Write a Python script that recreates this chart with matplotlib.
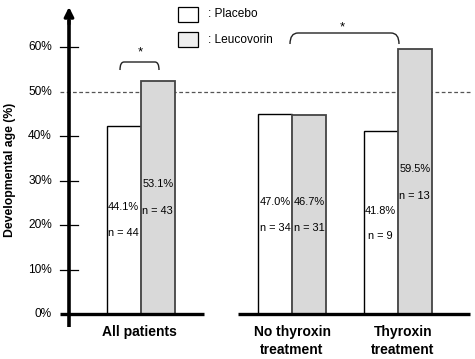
import matplotlib
matplotlib.use("Agg")
import matplotlib.pyplot as plt
from matplotlib.path import Path
from matplotlib.patches import PathPatch, Rectangle

plt.rcParams['font.family'] = ['Liberation Sans', 'DejaVu Sans']

# ---- data ----
groups = ["All patients", "No thyroxin\ntreatment", "Thyroxin\ntreatment"]
placebo_height = [42.2, 45.0, 41.1]       # drawn bar heights (%)
leucovorin_height = [52.5, 44.8, 59.7]
placebo_label = ["44.1%", "47.0%", "41.8%"]
leucovorin_label = ["53.1%", "46.7%", "59.5%"]
placebo_n = ["n = 44", "n = 34", "n = 9"]
leucovorin_n = ["n = 43", "n = 31", "n = 13"]
yticks = [0, 10, 20, 30, 40, 50, 60]
ytick_labels = ["0%", "10%", "20%", "30%", "40%", "50%", "60%"]
reference_line = 50

# ---- layout ----
W, H = 475, 359
Y0 = 314.0          # pixel row of 0 %
SC = 4.446          # pixels per %
def pv(p):          # pixel row -> value (layout helper for annotations)
    return (Y0 - p) / SC

fig = plt.figure(figsize=(W / 100, H / 100), dpi=100)
ax = fig.add_axes([0, 0, 1, 1])
ax.set_xlim(0, W)
ax.set_ylim(pv(H), pv(0))
ax.axis('off')

centers = [140.7, 292.3, 397.7]
bw = 34
pl_x = [c - bw / 2 for c in centers]
le_x = [c + bw / 2 for c in centers]

ax.bar(pl_x, placebo_height, width=bw, color='white', edgecolor='black', linewidth=1.0, zorder=2)
ax.bar(le_x, leucovorin_height, width=bw, color='#d9d9d9', edgecolor='#444444', linewidth=1.3, zorder=3)

# labels inside bars (pixel rows of text centres)
pl_lab_rows = [207.3, 202.3, 210.7]
pl_n_rows = [233.3, 228.3, 236.0]
le_lab_rows = [184.3, 202.3, 169.3]
le_n_rows = [210.7, 228.3, 196.0]
for i in range(3):
    ax.text(pl_x[i], pv(pl_lab_rows[i]), placebo_label[i], ha='center', va='center', fontsize=7.9, zorder=5)
    ax.text(pl_x[i], pv(pl_n_rows[i]), placebo_n[i], ha='center', va='center', fontsize=7.9, zorder=5)
    ax.text(le_x[i], pv(le_lab_rows[i]), leucovorin_label[i], ha='center', va='center', fontsize=7.9, zorder=5)
    ax.text(le_x[i], pv(le_n_rows[i]), leucovorin_n[i], ha='center', va='center', fontsize=7.9, zorder=5)

# category labels
cat_x = [139.5, 292, 403]
for i, g in enumerate(groups):
    ax.text(cat_x[i], pv(325), g, ha='center', va='top', fontsize=10, fontweight='bold', linespacing=1.38)

# reference dashed line
ax.plot([60, 470], [reference_line, reference_line], color='#555555', lw=0.9,
        linestyle=(0, (3, 2)), zorder=1)

# y axis with arrow
ax.plot([69, 69], [pv(327), pv(20)], color='black', lw=2.6, solid_capstyle='butt', zorder=6)
ax.annotate('', xy=(69, pv(7)), xytext=(69, pv(24)),
            arrowprops=dict(arrowstyle='-|>', color='black', lw=2.2,
                            mutation_scale=14, shrinkA=0, shrinkB=0), zorder=6)

# x axis (broken)
ax.plot([60, 204], [0, 0], color='black', lw=2.4, solid_capstyle='butt', zorder=6)
ax.plot([238, 470], [0, 0], color='black', lw=2.4, solid_capstyle='butt', zorder=6)

# ticks and labels
for v, lab in zip(yticks, ytick_labels):
    if v not in (0, 50):
        ax.plot([60, 78], [v, v], color='black', lw=0.9, zorder=6)
    ax.text(52, v, lab, ha='right', va='center', fontsize=8.6)

ax.text(10, pv(170), "Developmental age (%)", rotation=90, ha='center', va='center',
        fontsize=8.8, fontweight='bold')

# legend
ax.add_patch(Rectangle((178, pv(22)), 20, pv(7) - pv(22), facecolor='white', edgecolor='black', lw=0.9))
ax.add_patch(Rectangle((178, pv(47)), 20, pv(32) - pv(47), facecolor='#efefef', edgecolor='black', lw=0.9))
ax.text(208, pv(14), ": Placebo", ha='left', va='center', fontsize=8.6)
ax.text(208, pv(40), ": Leucovorin", ha='left', va='center', fontsize=8.6)

# significance brackets
def bracket(x0, x1, ytop, ybot, r):
    verts = [(x0, pv(ybot)), (x0, pv(ytop)), (x0 + r, pv(ytop)),
             (x1 - r, pv(ytop)), (x1, pv(ytop)), (x1, pv(ybot))]
    codes = [Path.MOVETO, Path.CURVE3, Path.CURVE3, Path.LINETO, Path.CURVE3, Path.CURVE3]
    ax.add_patch(PathPatch(Path(verts, codes), facecolor='none', edgecolor='#222222', lw=1.0))

bracket(120, 159, 62, 70, 4)
ax.text(140, pv(52), "*", ha='center', va='center', fontsize=9.5)
bracket(290, 399, 33, 44, 8)
ax.text(342, pv(27), "*", ha='center', va='center', fontsize=9.5)

fig.savefig("out.png", dpi=100)
